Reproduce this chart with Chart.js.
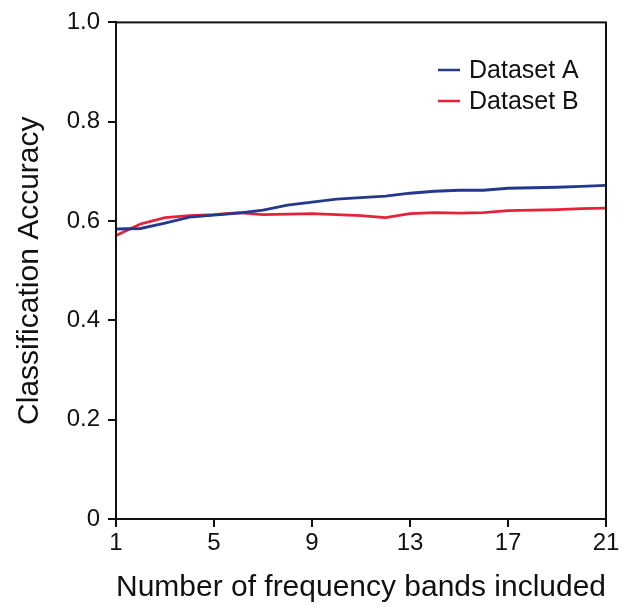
<!DOCTYPE html>
<html>
<head>
<meta charset="utf-8">
<script src="https://cdn.jsdelivr.net/npm/chart.js@4.4.1/dist/chart.umd.min.js"></script>
<style>
  html, body { margin: 0; padding: 0; background: #fff; }
  #wrap { width: 625px; height: 607px; }
</style>
</head>
<body>
<div id="wrap"><canvas id="chart" width="625" height="607"></canvas></div>
<script>
// number of frequency bands
const bands = [1, 2, 3, 4, 5, 6, 7, 8, 9, 10, 11, 12, 13, 14, 15, 16, 17, 18, 19, 20, 21];
const datasetA = [0.584, 0.585, 0.596, 0.608, 0.612, 0.616, 0.622, 0.632, 0.638, 0.644, 0.647,
                  0.650, 0.656, 0.660, 0.662, 0.662, 0.666, 0.667, 0.668, 0.670, 0.672];
const datasetB = [0.571, 0.594, 0.607, 0.611, 0.613, 0.617, 0.613, 0.614, 0.615, 0.613, 0.611,
                  0.607, 0.615, 0.617, 0.616, 0.617, 0.621, 0.622, 0.623, 0.625, 0.626];
const xTicks = [1, 5, 9, 13, 17, 21];

const FONT = "'Liberation Sans', Arial, Helvetica, sans-serif";
const blue = '#25388f';
const red = '#e8213b';

// frame round the plot + legend inside top right
const frame = {
  id: 'frame',
  afterDatasetsDraw(chart) {
    const { ctx, chartArea: a } = chart;
    ctx.save();
    ctx.strokeStyle = '#111';
    ctx.lineWidth = 2;
    ctx.strokeRect(a.left, a.top, a.right - a.left, a.bottom - a.top);

    ctx.font = '25px ' + FONT;
    ctx.textBaseline = 'middle';
    ctx.fillStyle = '#111';
    chart.data.datasets.forEach((ds, i) => {
      const y = 70 + i * 31;
      ctx.strokeStyle = ds.borderColor;
      ctx.lineWidth = 2.5;
      ctx.beginPath();
      ctx.moveTo(438, y);
      ctx.lineTo(460, y);
      ctx.stroke();
      ctx.fillText(ds.label, 469, y + 1);
    });
    ctx.restore();
  }
};

new Chart(document.getElementById('chart'), {
  type: 'line',
  data: {
    labels: bands,
    datasets: [
      {
        label: 'Dataset A',
        data: bands.map((b, i) => ({ x: b, y: datasetA[i] })),
        borderColor: blue,
        borderWidth: 2.8,
        pointRadius: 0,
        tension: 0,
        fill: false
      },
      {
        label: 'Dataset B',
        data: bands.map((b, i) => ({ x: b, y: datasetB[i] })),
        borderColor: red,
        borderWidth: 2.8,
        pointRadius: 0,
        tension: 0,
        fill: false
      }
    ]
  },
  options: {
    responsive: false,
    animation: false,
    layout: { padding: { left: 0, right: 19, top: 22, bottom: 0 } },
    plugins: {
      legend: { display: false },
      tooltip: { enabled: false }
    },
    scales: {
      x: {
        type: 'linear',
        min: 1,
        max: 21,
        afterBuildTicks: (axis) => { axis.ticks = xTicks.map(v => ({ value: v })); },
        afterFit: (axis) => { axis.height = 88; },
        border: { display: true, color: '#111', width: 2 },
        grid: { drawOnChartArea: false, drawTicks: true, tickLength: 8, color: '#111', lineWidth: 2 },
        ticks: { color: '#111', font: { family: FONT, size: 24 }, padding: 2, maxRotation: 0 },
        title: {
          display: true,
          text: 'Number of frequency bands included',
          color: '#111',
          font: { family: FONT, size: 30 },
          padding: { top: 0, bottom: 1 }
        }
      },
      y: {
        min: 0,
        max: 1,
        afterFit: (axis) => { axis.width = 116; },
        border: { display: true, color: '#111', width: 2 },
        grid: { drawOnChartArea: false, drawTicks: true, tickLength: 8, color: '#111', lineWidth: 2 },
        ticks: {
          stepSize: 0.2,
          color: '#111',
          font: { family: FONT, size: 24 },
          padding: 8,
          callback: (v) => v === 0 ? '0' : v.toFixed(1)
        },
        title: {
          display: true,
          text: 'Classification Accuracy',
          color: '#111',
          font: { family: FONT, size: 30 },
          padding: { top: 12, bottom: 0 }
        }
      }
    }
  },
  plugins: [frame]
});
</script>
</body>
</html>
